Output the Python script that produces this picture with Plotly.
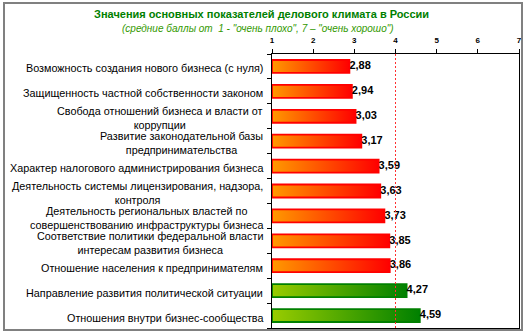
import plotly.graph_objects as go

categories = [
    "Возможность создания нового бизнеса (с нуля)",
    "Защищенность частной собственности законом",
    "Свобода отношений бизнеса и власти от<br>коррупции",
    "Развитие законодательной базы<br>предпринимательства",
    "Характер налогового администрирования бизнеса",
    "Деятельность системы лицензирования, надзора,<br>контроля",
    "Деятельность региональных властей по<br>совершенствованию инфраструктуры бизнеса",
    "Соответствие политики федеральной власти<br>интересам развития бизнеса",
    "Отношение населения к предпринимателям",
    "Направление развития политической ситуации",
    "Отношения внутри бизнес-сообщества",
]
values = [2.88, 2.94, 3.03, 3.17, 3.59, 3.63, 3.73, 3.85, 3.86, 4.27, 4.59]
x_ticks = [1, 2, 3, 4, 5, 6, 7]
threshold = 4
title = "Значения основных показателей делового климата в России"
subtitle = "(средние баллы от  1 - \"очень плохо\", 7 – \"очень хорошо\")"

W, H = 527, 334
ML, MR, MT, MB = 272, 8, 54, 6
PW, PH = W - ML - MR, H - MT - MB

def px_x(p):
    return (p - ML) / PW

def px_y(p):
    return (H - MB - p) / PH

FONT = "Liberation Sans, Arial, sans-serif"
half = 0.26
base = x_ticks[0]

fig = go.Figure()
for i, (c, v) in enumerate(zip(categories, values)):
    good = v > threshold
    cs = [[0, "#99CC00"], [1, "#008000"]] if good else [[0, "#FF9900"], [1, "#FF0000"]]
    edge = "#008000" if good else "#FF0000"
    fig.add_trace(go.Scatter(
        x=[base, v, v, base, base],
        y=[i - half, i - half, i + half, i + half, i - half],
        mode="lines", fill="toself",
        fillgradient=dict(type="horizontal", colorscale=cs),
        line=dict(color=edge, width=1.8),
        hoverinfo="skip", showlegend=False,
    ))

fig.add_trace(go.Scatter(
    x=values, y=list(range(len(values))), mode="text",
    text=[f"{v:.2f}".replace(".", ",") for v in values],
    textposition="middle right",
    textfont=dict(family=FONT, size=11, color="#000000", weight="bold"),
    showlegend=False, hoverinfo="skip",
))

n = len(categories)
for i, c in enumerate(categories):
    fig.add_annotation(
        x=0, xref="paper", y=i, yref="y", text=c, showarrow=False,
        xanchor="right", yanchor="middle", align="center", xshift=-7, yshift=-2,
        font=dict(family=FONT, size=10.8, color="#000000"),
    )

fig.add_annotation(x=px_x(261), xref="paper", y=px_y(14), yref="paper", text=f"<b>{title}</b>",
                   showarrow=False, xanchor="center", yanchor="middle",
                   font=dict(family=FONT, size=11, color="#008000"))
fig.add_annotation(x=px_x(258), xref="paper", y=px_y(28), yref="paper", text=f"<i>{subtitle}</i>",
                   showarrow=False, xanchor="center", yanchor="middle",
                   font=dict(family=FONT, size=10, color="#339900"))

fig.add_shape(type="line", x0=threshold, x1=threshold, xref="x", y0=0, y1=1, yref="paper",
              line=dict(color="#FF3030", width=1, dash="2px,2px"))
fig.add_shape(type="rect", xref="paper", yref="paper",
              x0=px_x(4), x1=px_x(522), y0=px_y(330), y1=px_y(3),
              line=dict(color="#808080", width=2))

fig.update_layout(
    width=W, height=H, margin=dict(l=ML, r=MR, t=MT, b=MB),
    paper_bgcolor="white", plot_bgcolor="white",
    xaxis=dict(range=[x_ticks[0], x_ticks[-1]], side="top", tickvals=x_ticks,
               ticks="outside", ticklen=4, tickcolor="black", showgrid=False, zeroline=False,
               showline=True, linecolor="black", linewidth=1, mirror=True,
               ticklabelstandoff=3,
               tickfont=dict(family=FONT, size=8, color="black", weight="bold")),
    yaxis=dict(range=[n - 0.5, -0.5], tickvals=[k - 0.5 for k in range(n + 1)],
               ticktext=[""] * (n + 1), ticks="outside", ticklen=4, tickcolor="black",
               showgrid=False, zeroline=False, showline=True, linecolor="black",
               linewidth=1, mirror=True),
)

fig.write_html("out.html")
